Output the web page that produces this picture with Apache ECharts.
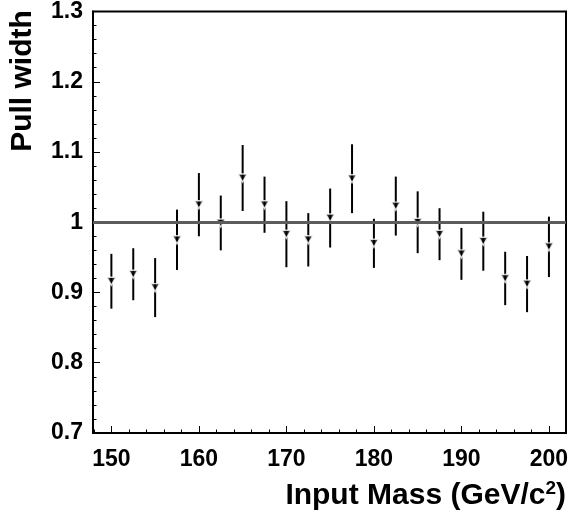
<!DOCTYPE html>
<html>
<head>
<meta charset="utf-8">
<script src="https://cdn.jsdelivr.net/npm/echarts@6/dist/echarts.min.js"></script>
<style>
html,body{margin:0;padding:0;background:#fff;}
#chart{width:574px;height:517px;}
</style>
</head>
<body>
<div id="chart"></div>
<script>
const masses = [150,152.5,155,157.5,160,162.5,165,167.5,170,172.5,175,177.5,180,182.5,185,187.5,190,192.5,195,197.5,200];
const pullWidth = [0.916,0.926,0.907,0.975,1.025,0.999,1.063,1.025,0.983,0.975,1.006,1.062,0.970,1.023,1.000,0.983,0.955,0.973,0.920,0.912,0.965];
const pullErr = [0.039,0.037,0.042,0.043,0.045,0.039,0.047,0.040,0.047,0.038,0.042,0.049,0.035,0.042,0.044,0.037,0.037,0.042,0.038,0.040,0.043];
const xMajorTicks = [150,160,170,180,190,200];
const xMinorTicks = [148,152,154,156,158,162,164,166,168,172,174,176,178,182,184,186,188,192,194,196,198];
const referenceLevel = 1;

const FONT = '"Liberation Sans", Arial, Helvetica, sans-serif';
const chart = echarts.init(document.getElementById('chart'), null, {renderer:'canvas'});

const pts = masses.map((m,i)=>[m, pullWidth[i], pullErr[i]]);

chart.setOption({
  animation:false,
  backgroundColor:'#fff',
  grid:{left:93, right:8, top:11, bottom:84, show:true, borderColor:'#000', borderWidth:2, backgroundColor:'transparent'},
  xAxis:[{
    type:'value', min:147.9, max:201.95,
    axisLine:{show:true, lineStyle:{color:'#000', width:2}},
    axisTick:{show:true, inside:true, length:7, lineStyle:{color:'#000', width:1}, customValues:xMajorTicks},
    axisLabel:{show:true, customValues:xMajorTicks, margin:15, color:'#000', fontFamily:FONT, fontWeight:'bold', fontSize:23},
    splitLine:{show:false}
  },{
    type:'value', min:147.9, max:201.95, position:'bottom',
    axisLine:{show:false},
    axisTick:{show:true, inside:true, length:3.5, lineStyle:{color:'#000', width:1}, customValues:xMinorTicks},
    axisLabel:{show:false},
    splitLine:{show:false}
  }],
  yAxis:{
    type:'value', min:0.7, max:1.3, interval:0.1,
    axisLine:{show:true, lineStyle:{color:'#000', width:2}},
    axisTick:{show:true, inside:true, length:7, lineStyle:{color:'#000', width:1}},
    minorTick:{show:true, splitNumber:5, length:3.5, lineStyle:{color:'#000', width:1}},
    axisLabel:{margin:10, color:'#000', fontFamily:FONT, fontWeight:'bold', fontSize:23,
      formatter:v=>String(Math.round(v*10)/10)},
    splitLine:{show:false}
  },
  series:[
    {
      type:'line', xAxisIndex:0, data:[], silent:true,
      markLine:{silent:true, symbol:['none','none'], label:{show:false},
        lineStyle:{color:'#5c5c5c', width:3, type:'solid'},
        data:[{yAxis:referenceLevel}]}
    },
    {
      type:'custom', xAxisIndex:0, data:pts, z:3,
      renderItem:(params, api)=>{
        const x = api.value(0), v = api.value(1), e = api.value(2);
        const lo = api.coord([x, v-e]), hi = api.coord([x, v+e]);
        return {type:'line', shape:{x1:lo[0], y1:lo[1], x2:hi[0], y2:hi[1]},
          style:{stroke:'#000', lineWidth:2}};
      }
    },
    {
      type:'scatter', xAxisIndex:0, data:pts.map(p=>[p[0],p[1]]), z:4,
      symbol:'triangle', symbolRotate:180, symbolSize:[9,8],
      itemStyle:{color:'#000', borderColor:'#fff', borderWidth:1.5}
    }
  ],
  graphic:[
    {type:'text', x:38, y:81, rotation:Math.PI/2,
      style:{text:'Pull width', font:'bold 30px '+FONT, fill:'#000', align:'center', verticalAlign:'bottom'}},
    {type:'text', x:566, y:513,
      style:{text:'Input Mass (GeV/c{s|2})', font:'bold 30px '+FONT, fill:'#000', align:'right', verticalAlign:'bottom',
        rich:{s:{font:'bold 19px '+FONT, fill:'#000', verticalAlign:'top', padding:[0,0,15,0]}}}}
  ]
});
</script>
</body>
</html>
